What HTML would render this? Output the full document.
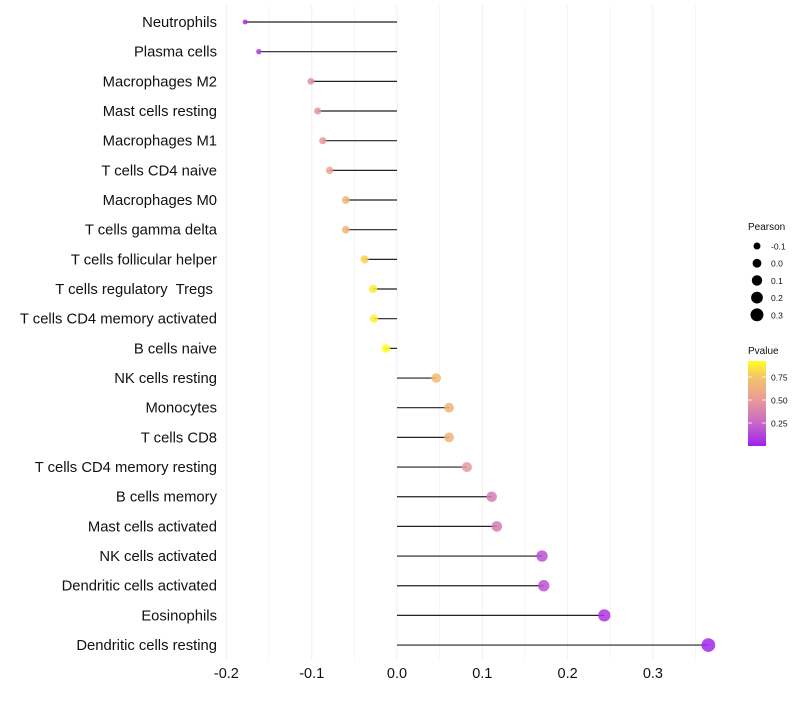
<!DOCTYPE html>
<html><head><meta charset="utf-8"><style>
body{margin:0;background:#fff;font-family:"Liberation Sans",sans-serif}
text{white-space:pre}
</style></head><body>
<svg id="c" width="800" height="700" xmlns="http://www.w3.org/2000/svg">
<defs><linearGradient id="pg" x1="0" y1="1" x2="0" y2="0">
<stop offset="0" stop-color="#a020f0"/><stop offset="0.27" stop-color="#c868c8"/>
<stop offset="0.54" stop-color="#e89a9a"/><stop offset="0.81" stop-color="#f5c468"/><stop offset="1" stop-color="#ffff20"/>
</linearGradient></defs>
</svg>
<script>
const cells=["Neutrophils","Plasma cells","Macrophages M2","Mast cells resting","Macrophages M1","T cells CD4 naive","Macrophages M0","T cells gamma delta","T cells follicular helper","T cells regulatory  Tregs ","T cells CD4 memory activated","B cells naive","NK cells resting","Monocytes","T cells CD8","T cells CD4 memory resting","B cells memory","Mast cells activated","NK cells activated","Dendritic cells activated","Eosinophils","Dendritic cells resting"];
const pearson=[-0.178,-0.162,-0.101,-0.093,-0.087,-0.079,-0.060,-0.060,-0.038,-0.028,-0.027,-0.013,0.046,0.061,0.061,0.082,0.111,0.117,0.170,0.172,0.243,0.365];
const pvalue=[0.05,0.1,0.45,0.48,0.5,0.55,0.65,0.65,0.8,0.87,0.88,0.95,0.7,0.65,0.65,0.5,0.35,0.35,0.17,0.17,0.07,0.02];
const xTicks=[-0.2,-0.1,0,0.1,0.2,0.3];
const xTickLabels=["-0.2","-0.1","0.0","0.1","0.2","0.3"];
const sizeLegend=[-0.1,0,0.1,0.2,0.3];
const sizeLegendLabels=["-0.1","0.0","0.1","0.2","0.3"];
const pTicks=[0.25,0.5,0.75];
const pTickLabels=["0.25","0.50","0.75"];
const svg=document.getElementById('c');const NS="http://www.w3.org/2000/svg";
function mk(t,a,p){const e=document.createElementNS(NS,t);for(const k in a)e.setAttribute(k,a[k]);(p||svg).appendChild(e);return e;}
const X=v=>397+v*853;const Y=i=>22+i*29.67;
const R=p=>Math.sqrt(Math.max(3,19.5+75*p));
const stops=[[0,[160,32,240]],[0.27,[200,104,200]],[0.54,[232,154,154]],[0.81,[245,196,104]],[1,[255,255,32]]];
function col(p){const t=Math.min(1,p/0.924);for(let i=1;i<stops.length;i++){if(t<=stops[i][0]){const a=stops[i-1],b=stops[i];const f=(t-a[0])/(b[0]-a[0]);return `rgb(${a[1].map((c,j)=>Math.round(c+(b[1][j]-c)*f)).join(',')})`;}}return 'rgb(255,255,32)';}
for(let v=-0.2;v<=0.351;v+=0.05){const g=mk('line',{x1:X(v),x2:X(v),y1:5,y2:660,stroke:'#f0f0f0','stroke-width':Math.abs(Math.round(v*20))%2===0?1:0.6});

}
xTicks.forEach((v,i)=>{const t=mk('text',{x:X(v),y:678,'text-anchor':'middle','font-size':14.5,fill:'#111'});t.textContent=xTickLabels[i];

});
cells.forEach((c,i)=>{const t=mk('text',{x:217,y:Y(i)+5,'text-anchor':'end','font-size':14.8,fill:'#111'});t.textContent=c;


const l=mk('line',{x1:X(0),x2:X(pearson[i]),y1:Y(i),y2:Y(i),stroke:'#222','stroke-width':1.2});


const d=mk('circle',{cx:X(pearson[i]),cy:Y(i),r:R(pearson[i]),fill:col(pvalue[i]),'fill-opacity':0.85});

});
let t=mk('text',{x:748,y:230,'font-size':10,fill:'#111'});t.textContent='Pearson';


sizeLegend.forEach((v,i)=>{const y=246+i*17.2;const c=mk('circle',{cx:757,cy:y,r:R(v),fill:'#000'});


const s=mk('text',{x:771,y:y+3.5,'font-size':8.5,fill:'#111'});s.textContent=sizeLegendLabels[i];

});
t=mk('text',{x:748,y:354,'font-size':10,fill:'#111'});t.textContent='Pvalue';


const bar=mk('rect',{x:748,y:361,width:18,height:85,fill:'url(#pg)'});


pTicks.forEach((v,i)=>{const y=446-v*92;mk('line',{x1:748,x2:752,y1:y,y2:y,stroke:'#fff','stroke-width':0.8});mk('line',{x1:762,x2:766,y1:y,y2:y,stroke:'#fff','stroke-width':0.8});
const s=mk('text',{x:771,y:y+3.5,'font-size':8.5,fill:'#111'});s.textContent=pTickLabels[i];

});
</script>
</body></html>
